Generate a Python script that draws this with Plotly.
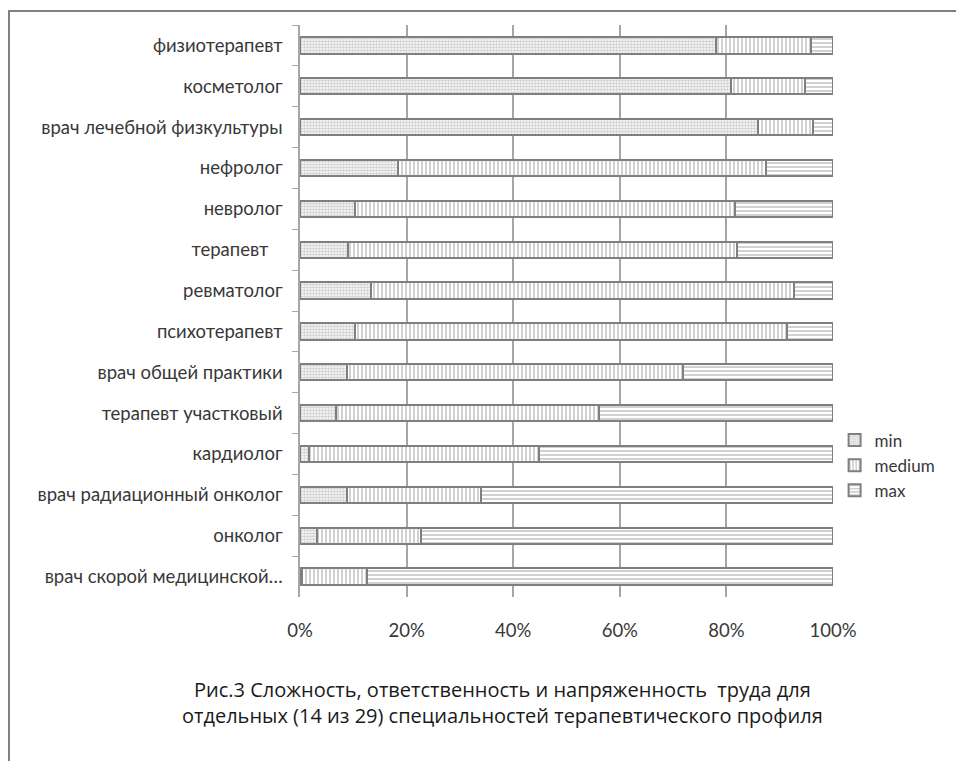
import plotly.graph_objects as go

# Specialties, listed from top to bottom of the chart
specialties = [
    "физиотерапевт",
    "косметолог",
    "врач лечебной физкультуры",
    "нефролог",
    "невролог",
    "терапевт\u00a0\u00a0\u00a0",
    "ревматолог",
    "психотерапевт",
    "врач общей практики",
    "терапевт участковый",
    "кардиолог",
    "врач радиационный онколог",
    "онколог",
    "врач скорой медицинской…",
]

# Share of each level (percent of the specialty total)
share_min = [78.0, 80.8, 86.0, 18.4, 10.4, 9.0, 13.4, 10.4, 8.8, 6.8, 1.6, 8.8, 3.2, 0.4]
share_medium = [17.9, 13.9, 10.3, 69.1, 71.3, 73.0, 79.3, 81.0, 63.0, 49.3, 43.3, 25.2, 19.5, 12.1]
share_max = [4.1, 5.3, 3.7, 12.5, 18.3, 18.0, 7.3, 8.6, 28.2, 43.9, 55.1, 66.0, 77.3, 87.5]

series = [
    ("min", share_min, dict(shape=".", size=3, solidity=0.6, fgcolor="#a0a0a0")),
    ("medium", share_medium, dict(shape="|", size=4, solidity=0.4, fgcolor="#8c8c8c")),
    ("max", share_max, dict(shape="-", size=4, solidity=0.4, fgcolor="#8c8c8c")),
]

fig = go.Figure()
for name, values, pat in series:
    fig.add_trace(go.Bar(
        y=specialties,
        x=values,
        name=name,
        orientation="h",
        marker=dict(
            color="white",
            line=dict(color="#7f7f7f", width=2),
            pattern=dict(bgcolor="white", fillmode="overlay", **pat),
        ),
    ))

font_family = "Lato, 'Open Sans', sans-serif"

fig.update_layout(
    width=956,
    height=761,
    barmode="stack",
    bargap=0.6,
    paper_bgcolor="white",
    plot_bgcolor="white",
    margin=dict(l=300, r=123, t=25, b=164, autoexpand=False),
    font=dict(family=font_family, size=18.5, color="#383838"),
    showlegend=True,
    legend=dict(
        x=1.003, y=0.305, xanchor="left", yanchor="top",
        traceorder="normal",
        bgcolor="rgba(0,0,0,0)",
        font=dict(size=17, color="#383838"),
        itemwidth=30,
        tracegroupgap=0,
    ),
    xaxis=dict(
        range=[0, 100],
        tickvals=[0, 20, 40, 60, 80, 100],
        ticktext=["0%", "20%", "40%", "60%", "80%", "100%"],
        showgrid=True,
        gridcolor="#a6a6a6",
        gridwidth=1.5,
        zeroline=False,
        showline=False,
        ticks="",
        ticklabelstandoff=20,
        fixedrange=True,
    ),
    yaxis=dict(
        autorange="reversed",
        showline=True,
        linecolor="#a6a6a6",
        linewidth=1.5,
        ticks="outside",
        tickson="boundaries",
        ticklen=6,
        tickcolor="#a6a6a6",
        showgrid=False,
        ticklabelstandoff=12,
    ),
    shapes=[
        dict(
            type="rect", xref="paper", yref="paper",
            x0=-0.546, x1=1.4, y0=-0.35, y1=1.0245,
            line=dict(color="#808080", width=2),
            fillcolor="rgba(0,0,0,0)",
            layer="below",
        )
    ],
    annotations=[
        dict(
            text="Рис.3 Сложность, ответственность и напряженность  труда для<br>"
                 "отдельных (14 из 29) специальностей терапевтического профиля",
            xref="paper", yref="paper",
            x=0.38, y=-0.135, xanchor="center", yanchor="top",
            showarrow=False,
            align="center",
            font=dict(family="'Open Sans', sans-serif", size=20, color="#1a1a1a"),
        )
    ],
)

fig.write_html("out.html")
